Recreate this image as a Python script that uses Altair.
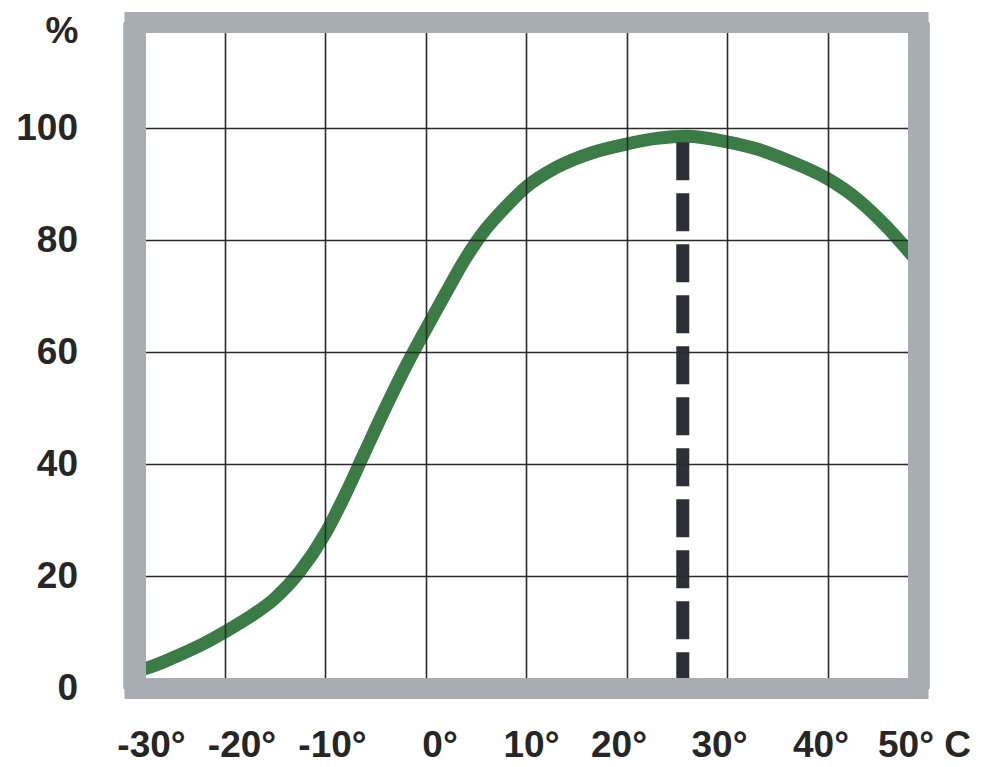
import altair as alt
import pandas as pd

# ---- data ----
temps = [-30, -27, -25, -22, -20, -17.5, -15, -12.5, -10, -8, -6, -4, -2, 0, 2, 4, 6, 8,
         10, 13, 16.5, 20, 23, 26, 30, 33, 36, 40, 43, 46, 48, 50]
pct = [2.5, 4, 5.5, 8, 10, 12.7, 16, 20.8, 27.5, 34.5, 42.3, 50, 57.3, 64, 70.5, 76.8, 82, 86,
       89.5, 93, 95.6, 97.2, 98.2, 98.6, 97.6, 96.3, 94.3, 91, 87.3, 82.2, 78.2, 74]
opt_temp = [25.6]
opt_top = [97.5]
opt_bottom = [0]
x_ticks = [-30, -20, -10, 0, 10, 20, 30, 40, 50]
x_labels = ["-30°", "-20°", "-10°", "0°", "10°", "20°", "30°", "40°", "50° C"]
y_ticks = [0, 20, 40, 60, 80, 100]
y_title = "%"

curve_df = pd.DataFrame({"t": temps, "p": pct})
opt_df = pd.DataFrame({"t": opt_temp, "top": opt_top, "bottom": opt_bottom})

FRAME = "#a8acb3"
GRID = "#2a2a2a"
TEXT = "#262626"
GREEN = "#3b7b46"
FONT = "Liberation Sans"
FS = 37

# small horizontal nudges of the x labels, as printed in the reference (styling)
label_nudge = {-30: 27, -20: 17, -10: 7, 0: 14, 10: 5, 20: -8, 30: -8, 40: -7, 50: -4}

x_scale = alt.Scale(domain=[-30, 50], nice=False, zero=False)
y_scale = alt.Scale(domain=[0, 119], nice=False, zero=False)

label_expr = "[" + ",".join(f"'{s}'" for s in x_labels) + "][indexof([" + \
    ",".join(str(v) for v in x_ticks) + "], datum.value)]"

label_offset = {
    "condition": [{"test": f"datum.value == {v}", "value": d} for v, d in label_nudge.items() if d != 0],
    "value": 0,
}

x_axis_bottom = alt.Axis(
    orient="bottom", values=x_ticks, labelExpr=label_expr, title=None,
    grid=True, gridColor=GRID, gridWidth=1.6, gridOpacity=1,
    ticks=False, tickSize=0,
    domain=True, domainColor=FRAME, domainWidth=21, domainOpacity=1,
    labelFont=FONT, labelFontSize=FS, labelFontWeight="bold", labelColor=TEXT,
    labelPadding=57, labelBaseline="middle", labelFlush=False, labelOverlap=False,
    labelOffset=label_offset,
    zindex=1,
)
y_axis_left = alt.Axis(
    orient="left", values=y_ticks, title=y_title,
    grid=True, gridColor=GRID, gridWidth=1.6, gridOpacity=1,
    ticks=False, tickSize=0,
    domain=True, domainColor=FRAME, domainWidth=22, domainOpacity=1, offset=-10.5,
    labelFont=FONT, labelFontSize=FS, labelFontWeight="bold", labelColor=TEXT,
    labelPadding=57, labelAlign="right", labelBaseline="middle", labelFlush=False,
    labelOverlap=False,
    titleFont=FONT, titleFontSize=FS, titleFontWeight="bold", titleColor=TEXT,
    titleAngle=0, titleAlign="right", titleBaseline="middle", titleX=-56.5, titleY=9,
    zindex=1,
)
x_axis_top = alt.Axis(
    orient="top", title=None, grid=False, ticks=False, labels=False,
    domain=True, domainColor=FRAME, domainWidth=21, domainOpacity=1, zindex=1,
)
y_axis_right = alt.Axis(
    orient="right", title=None, grid=False, ticks=False, labels=False,
    domain=True, domainColor=FRAME, domainWidth=21, domainOpacity=1, offset=-10, zindex=1,
)

curve = alt.Chart(curve_df).mark_line(
    color=GREEN, strokeWidth=13, interpolate="monotone", strokeCap="butt",
    strokeJoin="round", clip=True
).encode(
    x=alt.X("t:Q", scale=x_scale, axis=x_axis_bottom),
    y=alt.Y("p:Q", scale=y_scale, axis=y_axis_left),
)

opt_rule = alt.Chart(opt_df).mark_rule(
    color="#2c2f35", strokeWidth=13, strokeDash=[38, 13], strokeCap="butt"
).encode(
    x=alt.X("t:Q", scale=x_scale, axis=x_axis_top),
    y=alt.Y("top:Q", scale=y_scale, axis=y_axis_right),
    y2="bottom:Q",
)

chart = alt.layer(curve, opt_rule).properties(
    width=804, height=666,
    autosize=alt.AutoSizeParams(type="none"),
    padding={"left": 116, "top": 14, "right": 45, "bottom": 85},
    background="white",
).configure_view(stroke=None, fill="white")

chart.save("out.html", embed_options={"renderer": "svg", "actions": False})
